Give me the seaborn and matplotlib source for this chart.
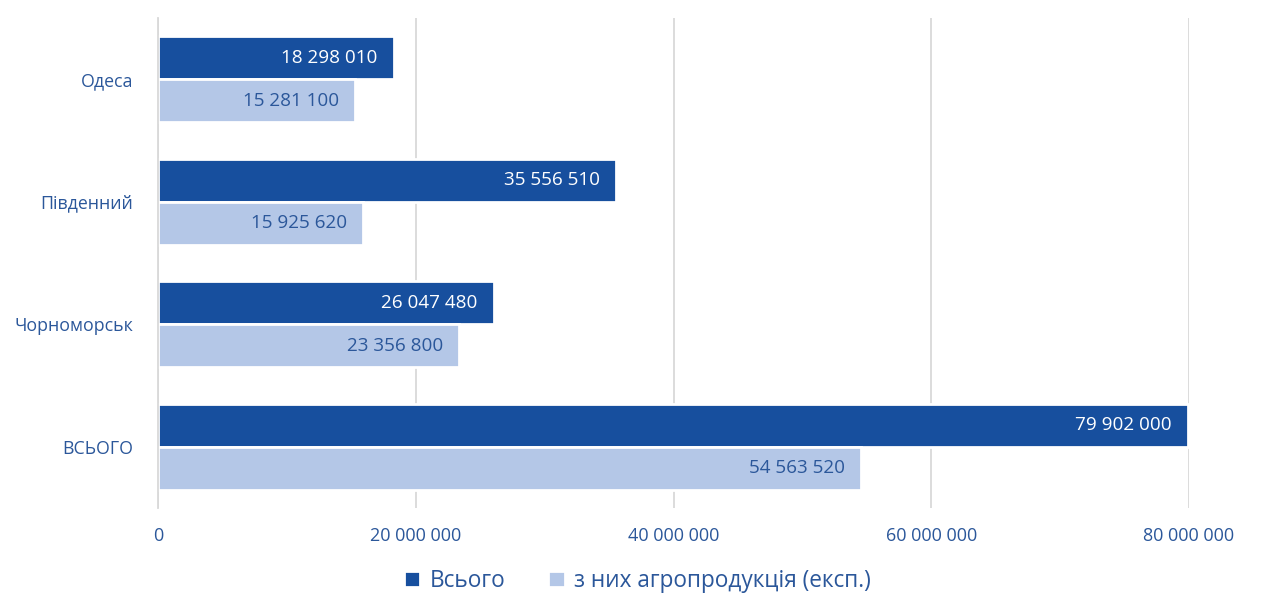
import numpy as np
import pandas as pd
import matplotlib.pyplot as plt
import seaborn as sns
from matplotlib.ticker import FuncFormatter

ports = ["Одеса", "Південний", "Чорноморськ", "ВСЬОГО"]
total = [18298010, 35556510, 26047480, 79902000]
agro = [15281100, 15925620, 23356800, 54563520]
series = ["Всього", "з них агропродукція (експ.)"]

DARK = "#174F9E"
LIGHT = "#B4C7E7"
TEXT = "#2B579A"

df = pd.DataFrame({
    "port": ports * 2,
    "value": total + agro,
    "series": [series[0]] * len(ports) + [series[1]] * len(ports),
})

sns.set_theme(style="white")
plt.rcParams["font.family"] = ["Open Sans", "DejaVu Sans"]


def fmt(v, pos=None):
    return f"{v:,.0f}".replace(",", " ")


fig = plt.figure(figsize=(12.62, 6.06), dpi=100)
ax = fig.add_axes([158 / 1262, 1 - 508 / 606, (1189 - 158) / 1262, (508 - 18) / 606])

sns.barplot(data=df, y="port", x="value", hue="series", orient="h",
            palette=[DARK, LIGHT], width=0.7, saturation=1, ax=ax,
            edgecolor="white", linewidth=2)

ax.set_xlim(0, 80000000)
ax.set_xticks([0, 20000000, 40000000, 60000000, 80000000])
ax.xaxis.set_major_formatter(FuncFormatter(fmt))
ax.grid(axis="x", color="#D9D9D9", linewidth=1.3)
ax.set_axisbelow(True)
for s in ["top", "right", "bottom"]:
    ax.spines[s].set_visible(False)
ax.spines["left"].set_color("#D9D9D9")
ax.spines["left"].set_linewidth(1.3)
ax.tick_params(axis="both", length=0, labelcolor=TEXT)
ax.tick_params(axis="x", pad=14, labelsize=13)
ax.tick_params(axis="y", pad=18, labelsize=12.8)
ax.set_xlabel("")
ax.set_ylabel("")

# value labels inside the bar end
offset = 16 / (1189 - 158) * 80000000
for cont, col in zip(ax.containers, ["white", TEXT]):
    for b in cont:
        w = b.get_width()
        ax.text(w - offset, b.get_y() + b.get_height() / 2, fmt(w),
                ha="right", va="center", color=col, fontsize=13.6)

ax.legend(loc="center", bbox_to_anchor=(0.505, 1 - 581 / 606),
          bbox_transform=fig.transFigure, ncol=2, frameon=False,
          fontsize=16.3, labelcolor=TEXT, handlelength=0.75, handleheight=0.75,
          handletextpad=0.4, columnspacing=1.9)

fig.savefig("out.png", dpi=100)
